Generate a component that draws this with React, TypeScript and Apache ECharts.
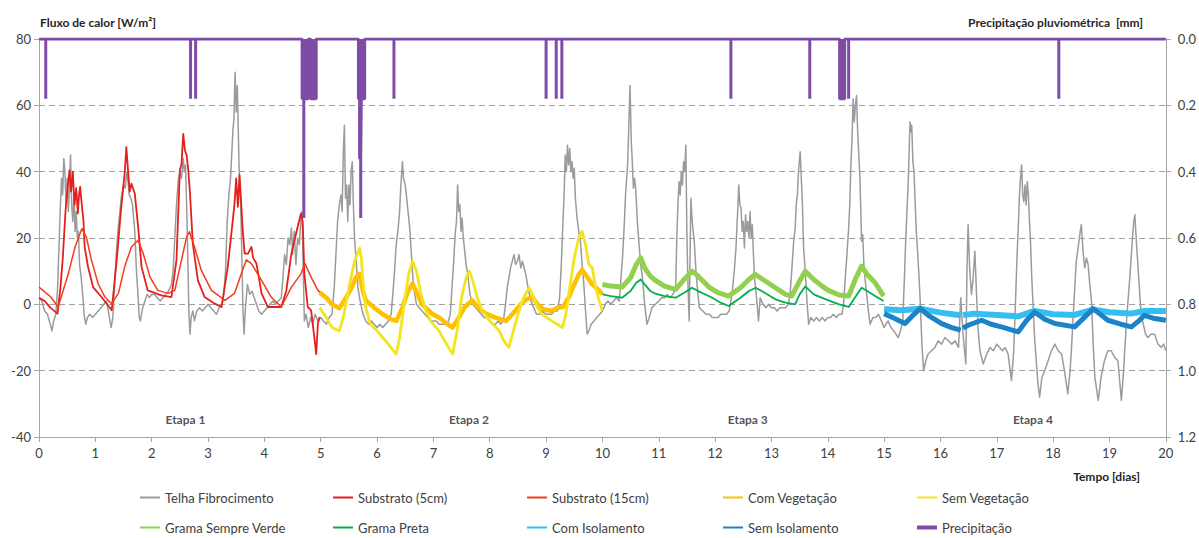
import React, { useEffect, useRef } from "react";
import * as echarts from "echarts";

// ---------- DATA (days, W/m²) ----------
const telhaFibrocimento: number[][] = [
  [0,2],[0.05,1],[0.1,-2],[0.15,-3],[0.2,-6],[0.23,-8],[0.26,-5],[0.3,-3],[0.33,5],[0.36,20],[0.38,30],[0.4,38],[0.42,33],[0.44,44],[0.46,40],[0.48,30],[0.5,38],[0.52,28],[0.54,35],[0.56,45],[0.58,30],[0.6,25],[0.62,33],[0.64,22],[0.66,28],[0.68,20],[0.7,22],[0.72,12],[0.75,8],[0.78,2],[0.8,-3],[0.83,-6],[0.86,-4],[0.9,-3],[0.95,-4],[1.0,-3],
  [1.05,-2],[1.1,-1],[1.15,0],[1.2,1],[1.24,-3],[1.28,-7],[1.31,-4],[1.34,5],[1.37,15],[1.4,22],[1.43,27],[1.46,32],[1.5,36],[1.53,35],[1.56,40],[1.58,37],[1.6,33],[1.63,32],[1.66,30],[1.7,22],[1.73,10],[1.76,2],[1.78,-4],[1.8,-5],[1.84,-1],[1.88,1],[1.92,3],[1.96,2],[2.0,3],
  [2.05,3],[2.1,2],[2.15,1],[2.2,2],[2.25,3],[2.3,4],[2.35,6],[2.38,10],[2.41,20],[2.44,30],[2.47,37],[2.5,40],[2.53,38],[2.56,44],[2.58,40],[2.6,42],[2.62,30],[2.64,15],[2.66,-2],[2.68,-9],[2.7,-4],[2.73,-2],[2.76,-5],[2.8,-2],[2.85,-1],[2.9,-2],[2.95,-1],[3.0,0],
  [3.05,-1],[3.1,-2],[3.15,-3],[3.2,-1],[3.25,0],[3.28,3],[3.31,10],[3.34,25],[3.37,33],[3.4,38],[3.42,45],[3.44,52],[3.46,56],[3.48,70],[3.5,58],[3.52,66],[3.54,50],[3.56,35],[3.58,30],[3.6,15],[3.62,-2],[3.64,-9],[3.66,-2],[3.7,6],[3.74,3],[3.78,4],[3.82,2],[3.86,0],[3.9,-2],[3.95,-3],[4.0,-2],
  [4.05,-1],[4.1,0],[4.15,1],[4.2,0],[4.25,1],[4.3,2],[4.33,8],[4.36,15],[4.39,12],[4.42,20],[4.45,18],[4.48,23],[4.5,15],[4.53,22],[4.56,12],[4.59,20],[4.62,18],[4.65,26],[4.67,28],[4.69,10],[4.71,-5],[4.74,-3],[4.78,-7],[4.82,-4],[4.86,-6],[4.9,-3],[4.95,-5],[5.0,-4],
  [5.05,-5],[5.1,-6],[5.15,-4],[5.2,-3],[5.24,5],[5.27,15],[5.3,25],[5.33,30],[5.36,33],[5.38,28],[5.4,45],[5.42,54],[5.44,32],[5.46,36],[5.48,25],[5.5,36],[5.52,30],[5.54,40],[5.56,43],[5.58,30],[5.6,20],[5.63,13],[5.66,5],[5.7,1],[5.75,-3],[5.8,-5],[5.85,-6],[5.9,-5],[5.95,-6],[6.0,-7],
  [6.05,-6],[6.1,-7],[6.15,-6],[6.2,-5],[6.25,-3],[6.28,3],[6.31,10],[6.34,18],[6.37,22],[6.4,28],[6.42,35],[6.45,43],[6.47,38],[6.5,36],[6.52,33],[6.55,28],[6.58,23],[6.61,15],[6.64,7],[6.67,3],[6.7,0],[6.75,-1],[6.8,-2],[6.85,-3],[6.9,-4],[6.95,-5],[7.0,-5],
  [7.05,-5],[7.1,-6],[7.15,-6],[7.2,-6],[7.25,-6],[7.3,-3],[7.33,5],[7.36,13],[7.39,22],[7.41,25],[7.43,36],[7.45,28],[7.47,30],[7.49,22],[7.51,26],[7.53,20],[7.55,17],[7.58,12],[7.61,9],[7.65,3],[7.7,0],[7.75,-1],[7.8,-2],[7.85,-3],[7.9,-4],[7.95,-4],[8.0,-5],
  [8.05,-6],[8.1,-6],[8.15,-5],[8.2,-6],[8.25,-4],[8.28,0],[8.31,5],[8.34,8],[8.37,11],[8.4,13],[8.43,15],[8.46,12],[8.49,13],[8.52,15],[8.55,11],[8.58,13],[8.61,11],[8.64,9],[8.68,5],[8.73,1],[8.78,-1],[8.83,-3],[8.88,-3],[8.93,-2],[9.0,-3],
  [9.05,-3],[9.1,-3],[9.15,-2],[9.2,-2],[9.24,2],[9.27,12],[9.3,25],[9.32,33],[9.34,45],[9.36,40],[9.38,48],[9.4,42],[9.42,47],[9.44,40],[9.46,43],[9.48,38],[9.5,41],[9.52,32],[9.55,26],[9.58,22],[9.61,19],[9.64,12],[9.67,6],[9.7,-2],[9.73,-9],[9.76,-8],[9.8,-6],[9.85,-5],[9.9,-4],[9.95,-3],[10.0,-2],
  [10.05,0],[10.1,1],[10.15,0],[10.2,1],[10.25,2],[10.3,1],[10.33,8],[10.36,15],[10.39,25],[10.41,33],[10.43,38],[10.45,43],[10.47,55],[10.49,66],[10.51,50],[10.53,43],[10.55,35],[10.57,38],[10.59,35],[10.62,25],[10.65,18],[10.68,12],[10.71,8],[10.75,0],[10.79,-6],[10.83,-4],[10.88,-1],[10.94,0],[11.0,1],
  [11.05,2],[11.1,2],[11.15,3],[11.2,2],[11.25,3],[11.3,5],[11.32,20],[11.34,30],[11.36,37],[11.38,33],[11.4,40],[11.42,36],[11.44,43],[11.46,40],[11.48,48],[11.5,20],[11.52,5],[11.54,-5],[11.56,20],[11.57,32],[11.59,26],[11.61,22],[11.63,19],[11.66,10],[11.69,4],[11.72,-1],[11.78,-2],[11.84,-3],[11.9,-3],[11.95,-4],[12.0,-4],
  [12.05,-4],[12.1,-3],[12.15,-3],[12.2,-3],[12.25,-2],[12.3,3],[12.34,10],[12.37,17],[12.4,28],[12.42,36],[12.44,30],[12.46,29],[12.48,22],[12.5,25],[12.52,17],[12.54,27],[12.56,22],[12.58,25],[12.6,20],[12.62,28],[12.64,20],[12.66,24],[12.68,15],[12.7,8],[12.73,3],[12.77,-5],[12.8,2],[12.85,0],[12.9,-1],[12.95,0],[13.0,-1],
  [13.05,-1],[13.1,-2],[13.15,-1],[13.2,-1],[13.25,-1],[13.3,0],[13.33,3],[13.36,10],[13.39,18],[13.42,23],[13.44,30],[13.46,33],[13.48,40],[13.51,46],[13.53,38],[13.55,30],[13.57,17],[13.6,10],[13.63,1],[13.66,-6],[13.7,-4],[13.75,-5],[13.8,-4],[13.85,-5],[13.9,-4],[13.95,-5],[14.0,-4],
  [14.05,-4],[14.1,-3],[14.15,-4],[14.2,-3],[14.25,-3],[14.28,0],[14.31,8],[14.34,15],[14.37,23],[14.39,30],[14.41,42],[14.43,50],[14.45,62],[14.47,55],[14.49,60],[14.51,63],[14.53,52],[14.55,45],[14.57,38],[14.6,19],[14.62,21],[14.64,12],[14.66,8],[14.69,3],[14.72,-2],[14.75,-6],[14.8,-4],[14.85,-4],[14.9,-3],[14.95,-5],[15.0,-7],
  [15.03,-6],[15.07,-5],[15.12,-7],[15.17,-8],[15.21,-9],[15.25,-10],[15.29,-8],[15.33,-5],[15.36,8],[15.38,18],[15.41,30],[15.43,38],[15.45,50],[15.46,55],[15.48,52],[15.49,54],[15.51,43],[15.53,40],[15.55,31],[15.57,22],[15.59,17],[15.62,8],[15.64,1],[15.67,-12],[15.7,-20],[15.74,-17],[15.78,-15],[15.84,-14],[15.9,-13],[15.96,-11],[16.02,-12],[16.08,-10],[16.14,-11],[16.2,-12],[16.26,-11],[16.32,-13],[16.36,2],[16.4,-9],[16.45,-18],[16.47,10],[16.49,24],[16.52,10],[16.55,3],[16.58,8],[16.61,16],[16.64,3],[16.67,-8],[16.7,-14],[16.76,-18],[16.82,-15],[16.88,-13],[16.94,-14],[17.0,-12],
  [17.05,-13],[17.1,-14],[17.15,-13],[17.2,-15],[17.26,-23],[17.3,-14],[17.33,0],[17.36,15],[17.38,23],[17.4,32],[17.42,38],[17.44,42],[17.46,33],[17.48,31],[17.5,36],[17.52,30],[17.54,37],[17.56,33],[17.58,25],[17.6,18],[17.62,8],[17.64,1],[17.67,-10],[17.7,-17],[17.73,-24],[17.76,-28],[17.8,-22],[17.85,-20],[17.91,-17],[17.97,-14],[18.03,-12],[18.09,-14],[18.15,-15],[18.2,-20],[18.26,-27],[18.3,-20],[18.32,-15],[18.36,-2],[18.41,13],[18.45,18],[18.48,22],[18.5,24],[18.53,16],[18.56,11],[18.59,14],[18.62,12],[18.65,6],[18.68,1],[18.71,-12],[18.74,-22],[18.8,-29],[18.85,-22],[18.91,-17],[18.97,-14],[19.03,-14],[19.09,-16],[19.15,-17],[19.21,-29],[19.25,-20],[19.27,-14],[19.31,-3],[19.36,8],[19.4,18],[19.43,25],[19.45,27],[19.48,18],[19.5,13],[19.53,5],[19.56,-3],[19.6,-6],[19.64,-9],[19.68,-10],[19.74,-9],[19.8,-9],[19.86,-12],[19.92,-13],[19.96,-12],[20.0,-14]
];

const substrato5cm: number[][] = [
  [0,2],[0.1,1],[0.2,-1],[0.33,-2.8],[0.38,5],[0.42,13.4],[0.47,28],[0.51,35.4],[0.54,40.4],[0.57,34],[0.6,40],[0.63,30],[0.66,35],[0.69,27.4],[0.71,33],[0.73,35.4],[0.76,30],[0.79,25],[0.81,17.3],[0.87,11.3],[0.96,5.2],[1.11,2.2],[1.29,-1.8],
  [1.38,13.4],[1.46,29.4],[1.52,39.4],[1.55,47.4],[1.58,40.4],[1.61,34],[1.64,36.4],[1.7,33.4],[1.76,23.3],[1.82,11.3],[1.93,4.2],[2.17,2.7],[2.35,2.2],
  [2.44,13.4],[2.5,40.4],[2.53,42.4],[2.56,51.4],[2.59,46.4],[2.62,45],[2.65,40.4],[2.68,33.4],[2.73,18.3],[2.82,7.2],[2.94,2.2],[3.12,0.2],[3.24,-0.8],
  [3.35,11.3],[3.44,25.4],[3.47,30.4],[3.5,38],[3.53,29.4],[3.56,39],[3.59,30],[3.62,21.3],[3.65,15.3],[3.71,15.3],[3.77,17.3],[3.8,14],[3.86,12.3],[3.95,3.3],[4.06,-0.8],[4.3,-0.8],
  [4.39,4.2],[4.48,15.3],[4.59,23.3],[4.65,27.4],[4.68,25],[4.71,9.2],[4.77,-0.8],[4.83,-1.8],[4.88,-9],[4.92,-15],[4.95,-5.8],[4.98,-3.8]
];

const substrato15cm: number[][] = [
  [0,5.2],[0.21,2.2],[0.34,-0.8],[0.52,9.2],[0.64,17.3],[0.76,22.8],[0.84,20.3],[0.93,13.4],[1.05,6.2],[1.17,2.2],[1.29,0.2],
  [1.41,3.3],[1.52,11.3],[1.64,17.3],[1.76,19.3],[1.85,15.3],[1.97,8.2],[2.11,4.2],[2.29,3.3],
  [2.41,4.2],[2.53,13.4],[2.62,20.3],[2.67,21.9],[2.76,17.3],[2.88,10.3],[3.06,4.2],[3.3,1.2],
  [3.47,3.3],[3.59,9.2],[3.68,13.4],[3.77,12.3],[3.95,7.2],[4.12,2.2],[4.3,-0.8],
  [4.48,5.2],[4.65,9.2],[4.72,12.3],[4.83,8.2],[4.95,4.2],[5.01,3.3]
];

const comVegetacao: number[][] = [
  [4.98,3.6],[5.1,2],[5.2,0],[5.33,-1.2],[5.45,2],[5.55,5],[5.62,8],[5.69,9.2],[5.75,4],[5.8,1.2],[5.95,-1],[6.1,-3],[6.25,-4.5],[6.34,-5],
  [6.45,-1],[6.55,4],[6.63,6.2],[6.72,3],[6.8,0],[6.99,-3],[7.1,-4],[7.25,-6],[7.34,-7],
  [7.45,-4],[7.55,-1],[7.64,0.5],[7.69,1.2],[7.8,-1],[7.93,-2.8],[8.1,-4],[8.29,-5],
  [8.4,-3],[8.55,0],[8.65,1.5],[8.75,2.2],[8.85,0],[8.95,-1.5],[9.1,-2],[9.2,-1],[9.3,-0.8],
  [9.4,2],[9.5,6],[9.58,9],[9.64,10.4],[9.7,9],[9.82,6],[9.94,4.2],[10.0,3]
];

const semVegetacao: number[][] = [
  [4.98,-1],[5.1,-4],[5.2,-7],[5.33,-8],[5.4,-4],[5.5,5],[5.6,13],[5.69,17],[5.72,14],[5.76,5],[5.8,-1],[5.88,-6],[6.0,-8],[6.1,-10],[6.2,-12],[6.34,-15],
  [6.4,-10],[6.48,0],[6.56,9],[6.63,13],[6.7,10],[6.78,3],[6.87,-2],[6.95,-5],[7.1,-8],[7.2,-11],[7.34,-15],
  [7.42,-8],[7.5,2],[7.58,8],[7.64,10],[7.7,7],[7.78,2],[7.87,-2],[8.0,-5],[8.17,-8],[8.25,-11],[8.34,-13],
  [8.42,-8],[8.5,-3],[8.6,2],[8.7,5],[8.78,2],[8.85,-1],[8.93,-3],[9.1,-5],[9.2,-6],[9.29,-7],
  [9.35,-3],[9.42,5],[9.5,14],[9.58,20],[9.64,22],[9.7,18],[9.76,12],[9.82,11],[9.88,5],[9.94,1.2],[10.0,-2]
];

const gramaSempreVerde: number[][] = [
  [10.0,6],[10.15,5.5],[10.35,5.2],[10.5,8],[10.6,12],[10.68,14],[10.75,11],[10.85,8.5],[10.94,7.2],[11.1,5.5],[11.3,4.5],
  [11.45,7.5],[11.59,10],[11.7,8.5],[11.89,5.2],[12.05,3.5],[12.24,2.5],
  [12.45,5],[12.6,7.5],[12.71,9],[12.85,7.5],[13.07,5],[13.25,3],[13.36,2.5],
  [13.5,7],[13.6,10],[13.75,7.5],[13.9,5.5],[14.01,4.2],[14.2,2.8],[14.37,2.5],
  [14.5,8],[14.6,11.5],[14.7,9],[14.84,6.5],[14.99,2.5]
];

const gramaPreta: number[][] = [
  [10.0,3],[10.15,2.5],[10.35,2],[10.5,4],[10.6,6.5],[10.68,7.5],[10.75,6],[10.85,4],[10.94,3.2],[11.1,2.5],[11.3,2],
  [11.45,3.5],[11.59,5],[11.7,4],[11.95,2],[12.1,0.5],[12.24,-0.5],
  [12.45,2],[12.6,4],[12.72,5],[12.85,3.8],[13.07,1.5],[13.25,0.5],[13.42,0],
  [13.5,3],[13.6,5.4],[13.75,3],[14.01,1.2],[14.2,0],[14.37,-0.8],
  [14.5,2.5],[14.6,5],[14.7,4],[14.84,2.5],[14.99,1]
];

const comIsolamento: (number[] | null)[] = [
  [15.0,-1.5],[15.3,-1.8],[15.64,-1.3],[16.0,-2.5],[16.36,-3.3],null,[16.4,-3.2],[16.6,-2.8],[17.0,-3.2],[17.38,-3.6],[17.67,-2],
  [18.0,-3],[18.38,-3.2],[18.71,-1.6],[19.0,-2.4],[19.38,-2.8],[19.62,-2],[20.0,-2]
];

const semIsolamento: (number[] | null)[] = [
  [15.0,-2.8],[15.15,-4],[15.37,-5.8],[15.5,-3.5],[15.64,-1.3],[15.8,-3.5],[16.02,-5.8],[16.2,-7],[16.36,-7.8],null,[16.4,-7.2],[16.49,-6.3],
  [16.73,-4.8],[16.9,-6],[17.08,-6.8],[17.38,-8.3],[17.52,-5],[17.67,-2.3],[17.85,-4.5],[18.03,-5.8],[18.38,-6.8],
  [18.55,-4],[18.71,-1.3],[18.97,-4.8],[19.2,-6],[19.39,-6.8],[19.52,-5],[19.62,-3.3],[19.8,-4.3],[20.0,-4.8]
];

// Precipitation (mm), drawn as steps from the top (inverse right axis)
const precipitacao: number[][] = [
  [0,0],[0.12,0],[0.12,0.18],[0.12,0],
  [2.69,0],[2.69,0.18],[2.69,0],[2.78,0],[2.78,0.18],[2.78,0],
  [4.67,0],[4.67,0.18],[4.7,0.18],[4.7,0.54],[4.7,0.18],[4.78,0.18],[4.78,0],[4.82,0],[4.82,0.18],[4.92,0.18],[4.92,0],
  [5.67,0],[5.67,0.18],[5.69,0.18],[5.69,0.36],[5.71,0.36],[5.71,0.54],[5.71,0.36],[5.72,0.36],[5.72,0.18],[5.78,0.18],[5.78,0],
  [6.3,0],[6.3,0.18],[6.3,0],
  [9.0,0],[9.0,0.18],[9.0,0],[9.18,0],[9.18,0.18],[9.18,0],[9.28,0],[9.28,0.18],[9.28,0],
  [12.28,0],[12.28,0.18],[12.28,0],
  [13.68,0],[13.68,0.18],[13.68,0],
  [14.21,0],[14.21,0.18],[14.3,0.18],[14.3,0],[14.37,0],[14.37,0.18],[14.37,0],
  [18.1,0],[18.1,0.18],[18.1,0],
  [20,0]
];

const etapaLabels: (number | string)[][] = [
  [2.6, -34.7, "Etapa 1"],
  [7.63, -34.7, "Etapa 2"],
  [12.58, -34.7, "Etapa 3"],
  [17.64, -34.7, "Etapa 4"]
];

const seriesNames = [
  "Telha Fibrocimento", "Substrato (5cm)", "Substrato (15cm)", "Com Vegetação", "Sem Vegetação",
  "Grama Sempre Verde", "Grama Preta", "Com Isolamento", "Sem Isolamento", "Precipitação"
];
const seriesColors = [
  "#9B9B9B", "#E3211C", "#F43A1F", "#FFC000", "#F2E41E",
  "#92D050", "#00B050", "#35BEF0", "#1C83C8", "#7F4BA6"
];
const seriesWidths = [1.5, 1.8, 1.5, 4.5, 2.8, 5, 1.8, 6, 5, 3];

const FONT = "Lato, 'Noto Sans', sans-serif";
const TXT = "#404040";

export default function App() {
  const ref = useRef<HTMLDivElement>(null);

  useEffect(() => {
    document.body.style.margin = "0";
    document.body.style.overflow = "hidden";
    if (!ref.current) return;
    const chart = echarts.init(ref.current, null, { renderer: "svg" });

    const datasets = [
      telhaFibrocimento, substrato5cm, substrato15cm, comVegetacao, semVegetacao,
      gramaSempreVerde, gramaPreta, comIsolamento, semIsolamento
    ];

    const lineSeries: any[] = datasets.map((d, i) => ({
      name: seriesNames[i],
      type: "line",
      data: d.map((p) => (p === null ? [null, null] : p)),
      showSymbol: false,
      symbol: "none",
      connectNulls: false,
      lineStyle: { color: seriesColors[i], width: seriesWidths[i], join: "round" },
      itemStyle: { color: seriesColors[i] },
      z: 2 + i,
      silent: true
    }));

    lineSeries.push({
      name: seriesNames[9],
      type: "line",
      yAxisIndex: 1,
      data: precipitacao,
      showSymbol: false,
      symbol: "none",
      lineStyle: { color: seriesColors[9], width: seriesWidths[9] },
      areaStyle: { color: seriesColors[9], opacity: 1 },
      itemStyle: { color: seriesColors[9] },
      z: 20,
      silent: true
    });

    lineSeries.push({
      type: "scatter",
      data: etapaLabels,
      symbolSize: 1,
      itemStyle: { color: "rgba(0,0,0,0)" },
      label: {
        show: true,
        position: "inside",
        formatter: (p: any) => p.value[2],
        fontFamily: FONT,
        fontWeight: "bold",
        fontSize: 12,
        color: "#262626"
      },
      silent: true,
      z: 30
    });

    const legendCols = [140, 333, 527, 723, 917];
    const legendRows = [491, 521];
    const legends = seriesNames.map((n, i) => ({
      data: [n],
      left: legendCols[i % 5],
      top: legendRows[Math.floor(i / 5)],
      padding: 0,
      icon: "rect",
      itemWidth: 20,
      itemHeight: i === 9 ? 4 : 2,
      selectedMode: false,
      textStyle: { fontFamily: FONT, fontSize: 13, color: TXT }
    }));

    chart.setOption({
      animation: false,
      backgroundColor: "#ffffff",
      grid: { left: 39, right: 31, top: 39, bottom: 101, containLabel: false },
      legend: legends,
      xAxis: {
        type: "value",
        min: 0,
        max: 20,
        interval: 1,
        axisLine: { onZero: false, lineStyle: { color: "#A6A6A6", width: 1 } },
        axisTick: { show: true, length: 5, lineStyle: { color: "#A6A6A6" } },
        axisLabel: { fontFamily: FONT, fontSize: 13, color: TXT, margin: 9 },
        splitLine: { show: false }
      },
      yAxis: [
        {
          type: "value",
          min: -40,
          max: 80,
          interval: 20,
          axisLine: { show: true, lineStyle: { color: "#A6A6A6", width: 1 } },
          axisTick: { show: true, length: 5, lineStyle: { color: "#A6A6A6" } },
          axisLabel: { fontFamily: FONT, fontSize: 13, color: TXT, margin: 8 },
          splitLine: { show: true, lineStyle: { color: "#A0A0A0", type: [6, 4], width: 1 } }
        },
        {
          type: "value",
          min: 0,
          max: 1.2,
          interval: 0.2,
          inverse: true,
          position: "right",
          axisLine: { show: true, lineStyle: { color: "#A6A6A6", width: 1 } },
          axisTick: { show: true, length: 5, lineStyle: { color: "#A6A6A6" } },
          axisLabel: {
            fontFamily: FONT, fontSize: 13, color: TXT, margin: 12,
            formatter: (v: number) => v.toFixed(1)
          },
          splitLine: { show: false }
        }
      ],
      graphic: [
        {
          type: "text",
          left: 40,
          top: 16,
          style: { text: "Fluxo de calor [W/m²]", fontFamily: FONT, fontWeight: "bold", fontSize: 12, fill: "#262626" }
        },
        {
          type: "text",
          right: 56,
          top: 16,
          style: { text: "Precipitação pluviométrica  [mm]", fontFamily: FONT, fontWeight: "bold", fontSize: 12, fill: "#262626" }
        },
        {
          type: "text",
          right: 59,
          top: 470,
          style: { text: "Tempo [dias]", fontFamily: FONT, fontWeight: "bold", fontSize: 12, fill: "#262626" }
        }
      ],
      series: lineSeries
    });

    return () => chart.dispose();
  }, []);

  return <div ref={ref} style={{ width: 1199, height: 538 }} />;
}
